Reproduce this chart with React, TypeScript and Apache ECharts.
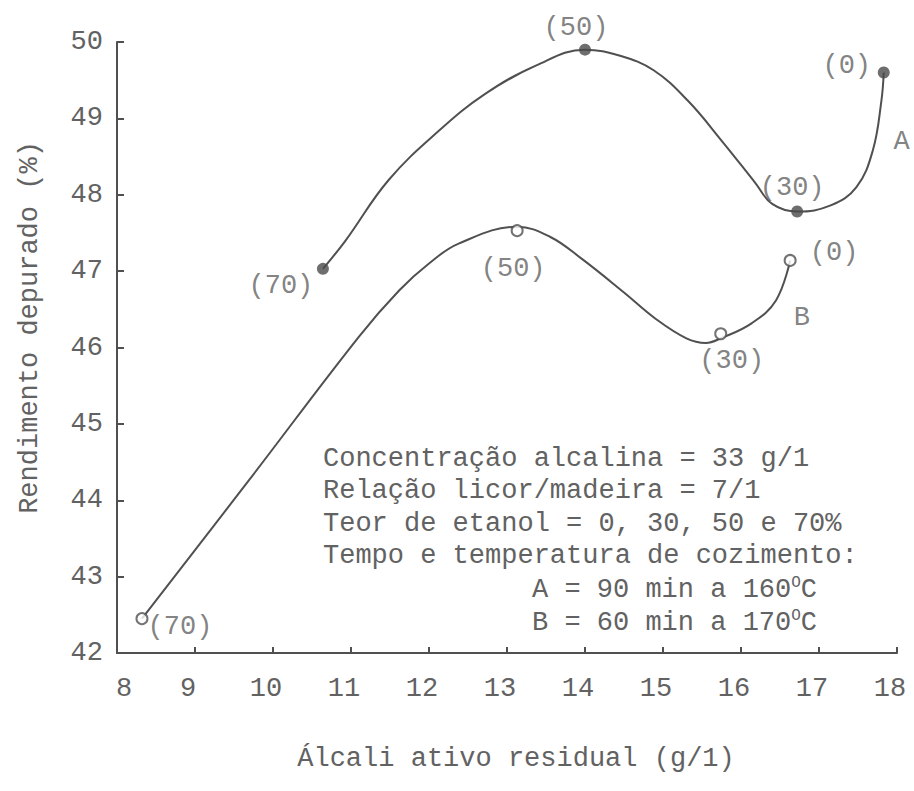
import React, { useEffect, useRef } from "react";
import * as echarts from "echarts";

// Ethanol content of each cook (label next to each point)
const ethanolLabels = ["(70)", "(50)", "(30)", "(0)"];

// Curve A: 90 min at 160 °C (filled dots)
const pointsAX = [10.64, 14.0, 16.72, 17.83];
const pointsAY = [47.03, 49.9, 47.78, 49.6];

// Curve B: 60 min at 170 °C (open circles)
const pointsBX = [8.32, 13.13, 15.74, 16.63];
const pointsBY = [42.45, 47.53, 46.18, 47.14];

// Hand-drawn fitted curves
const curveAX = [10.64, 10.93, 11.48, 12.13, 12.72, 13.37, 14.0, 14.45, 14.88, 15.32, 15.75, 16.18, 16.4, 16.72, 17.15, 17.48, 17.69, 17.8, 17.83];
const curveAY = [47.03, 47.4, 48.19, 48.84, 49.32, 49.69, 49.9, 49.82, 49.63, 49.23, 48.71, 48.16, 47.88, 47.78, 47.86, 48.1, 48.58, 49.23, 49.6];
const curveBX = [8.32, 9.69, 11.1, 11.62, 12.0, 12.38, 13.13, 13.55, 13.96, 14.5, 14.9, 15.3, 15.55, 15.74, 16.14, 16.45, 16.63];
const curveBY = [42.45, 44.26, 46.14, 46.75, 47.1, 47.36, 47.58, 47.45, 47.16, 46.72, 46.38, 46.12, 46.06, 46.12, 46.32, 46.62, 47.14];

// Curve names and where they are written
const curveNames = ["A", "B"];
const curveNameX = [18.06, 16.78];
const curveNameY = [48.69, 46.38];

// Axes
const xMin = 8;
const xMax = 18;
const yMin = 42;
const yMax = 50;
const xTitle = "Álcali ativo residual (g/1)";
const yTitle = "Rendimento depurado (%)";

// Notes block
const notes = [
  "Concentração alcalina = 33 g/1",
  "Relação licor/madeira = 7/1",
  "Teor de etanol = 0, 30, 50 e 70%",
  "Tempo e temperatura de cozimento:",
];
const notesCook = ["A = 90 min a 160{sup|O}C", "B = 60 min a 170{sup|O}C"];

// label offsets (styling)
const offsA = [[-42, 17], [-9, -22], [-5, -24], [-37, -7]];
const offsB = [[38, 8], [-4, 38], [11, 27], [44, -7]];

const FONT = '"Liberation Mono", "DejaVu Sans Mono", monospace';
const FS = 27;
const TEXT = "#626262";
const LINE = "#505050";

export default function App() {
  const ref = useRef<HTMLDivElement>(null);

  useEffect(() => {
    document.body.style.margin = "0";
    const chart = echarts.init(ref.current!, null, { renderer: "svg" });

    const txt = { fontFamily: FONT, fontSize: FS, color: TEXT };

    const pointLabel = (offs: number[][]) =>
      ethanolLabels.map((l, i) => ({
        show: true,
        position: "inside",
        offset: offs[i],
        formatter: l,
        ...txt,
      }));

    const labA = pointLabel(offsA);
    const labB = pointLabel(offsB);

    const option: any = {
      animation: false,
      backgroundColor: "#ffffff",
      grid: { left: 117, right: 17, top: 42, bottom: 138, containLabel: false },
      xAxis: {
        type: "value",
        min: xMin,
        max: xMax,
        interval: 1,
        name: xTitle,
        nameLocation: "middle",
        nameGap: 92,
        nameTextStyle: { ...txt, padding: [0, 0, 0, 18] },
        axisLine: { onZero: false, lineStyle: { color: LINE, width: 2 } },
        axisTick: { inside: true, length: 6, lineStyle: { color: LINE, width: 2 } },
        splitLine: { show: false },
        axisLabel: {
          margin: 22,
          ...txt,
          formatter: (v: number) => (v === xMin ? "{f|" + v + "}" : "{n|" + v + "}"),
          rich: {
            f: { ...txt, padding: [0, 0, 0, 14] },
            n: { ...txt, padding: [0, 14, 0, 0] },
          },
        },
      },
      yAxis: {
        type: "value",
        min: yMin,
        max: yMax,
        interval: 1,
        name: yTitle,
        nameLocation: "middle",
        nameGap: 74,
        nameTextStyle: { ...txt, padding: [0, 0, 0, 40] },
        axisLine: { onZero: false, lineStyle: { color: LINE, width: 2 } },
        axisTick: { inside: true, length: 7, lineStyle: { color: LINE, width: 2 } },
        splitLine: { show: false },
        axisLabel: { margin: 14, ...txt },
      },
      series: [
        {
          type: "line",
          data: curveAX.map((x, i) => [x, curveAY[i]]),
          smooth: 0.4,
          showSymbol: false,
          symbol: "none",
          lineStyle: { color: LINE, width: 2 },
          silent: true,
          z: 2,
        },
        {
          type: "line",
          data: curveBX.map((x, i) => [x, curveBY[i]]),
          smooth: 0.4,
          showSymbol: false,
          symbol: "none",
          lineStyle: { color: LINE, width: 2 },
          silent: true,
          z: 2,
        },
        {
          type: "scatter",
          symbol: "circle",
          symbolSize: 12,
          itemStyle: { color: "#4a4a4a" },
          data: pointsAX.map((x, i) => ({ value: [x, pointsAY[i]], label: labA[i] })),
          z: 3,
        },
        {
          type: "scatter",
          symbol: "circle",
          symbolSize: 11,
          itemStyle: { color: "#ffffff", borderColor: LINE, borderWidth: 2 },
          data: pointsBX.map((x, i) => ({ value: [x, pointsBY[i]], label: labB[i] })),
          z: 3,
        },
        {
          type: "scatter",
          symbolSize: 1,
          clip: false,
          itemStyle: { color: "rgba(0,0,0,0)" },
          data: curveNames.map((n, i) => ({
            value: [curveNameX[i], curveNameY[i]],
            name: n,
          })),
          label: { show: true, position: "inside", formatter: "{b}", ...txt },
          z: 3,
        },
      ],
      graphic: [
        ...notes.map((t, i) => ({
          type: "text",
          left: 323,
          top: 445 + i * 32.6,
          style: { text: t, font: `${FS}px ${FONT}`, fill: TEXT },
        })),
        ...notesCook.map((t, i) => ({
          type: "text",
          left: 532,
          top: 445 + (i + 4) * 32.6,
          style: {
            text: t,
            font: `${FS}px ${FONT}`,
            fill: TEXT,
            rich: {
              sup: { fontSize: 16, fontFamily: FONT, fill: TEXT, verticalAlign: "top", lineHeight: 30 },
            },
          },
        })),
      ],
    };

    chart.setOption(option);
    return () => chart.dispose();
  }, []);

  return <div ref={ref} style={{ width: 914, height: 791 }} />;
}
